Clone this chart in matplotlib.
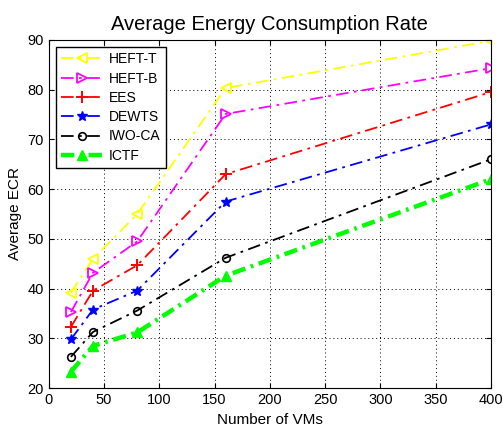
import numpy as np
import matplotlib.pyplot as plt

vms = [20, 40, 80, 160, 400]
heft_t = [39.2, 46.0, 55.0, 80.3, 89.8]
heft_b = [35.3, 43.2, 49.5, 75.1, 84.3]
ees = [32.3, 39.6, 44.7, 63.0, 79.5]
dewts = [29.8, 35.8, 39.6, 57.5, 73.0]
iwo_ca = [26.3, 31.3, 35.6, 46.2, 66.0]
ictf = [23.3, 28.5, 31.2, 42.6, 62.0]

plt.rcParams["font.family"] = ["Liberation Sans", "DejaVu Sans"]

fig = plt.figure(figsize=(5.03, 4.28), dpi=100)
ax = fig.add_axes([0.097, 0.093, 0.879, 0.814])

dd = (0, (7, 3, 1.5, 3))
ax.plot(vms, heft_t, color="yellow", linestyle=dd, linewidth=1.3, marker="<",
        markersize=7.5, markerfacecolor="none", markeredgewidth=1.3, label="HEFT-T")
ax.plot(vms, heft_b, color="magenta", linestyle=dd, linewidth=1.3, marker=">",
        markersize=7.5, markerfacecolor="none", markeredgewidth=1.3, label="HEFT-B")
ax.plot(vms, ees, color="red", linestyle=dd, linewidth=1.3, marker="+",
        markersize=8.5, markeredgewidth=1.4, label="EES")
ax.plot(vms, dewts, color="blue", linestyle=dd, linewidth=1.3, marker="*",
        markersize=7.5, label="DEWTS")
ax.plot(vms, iwo_ca, color="black", linestyle=dd, linewidth=1.3, marker="o",
        markersize=5.5, markerfacecolor="none", markeredgewidth=1.2, label="IWO-CA")
ax.plot(vms, ictf, color="#00ff00", linestyle=(0, (3, 1.3, 0.6, 1.3)), linewidth=3.2,
        marker="^", markersize=7.5, label="ICTF")

ax.set_xlim(0, 400)
ax.set_ylim(20, 90)
ax.set_xticks(np.arange(0, 401, 50))
ax.set_yticks(np.arange(20, 91, 10))
ax.grid(True, color="black", linestyle=(0, (1, 3)), linewidth=0.7)
ax.tick_params(direction="in", labelsize=10.5, top=True, right=True)
ax.set_title("Average Energy Consumption Rate", fontsize=14.5, pad=7)
ax.set_xlabel("Number of VMs", fontsize=11)
ax.set_ylabel("Average ECR", fontsize=11)
ax.legend(loc="upper left", fancybox=False, edgecolor="black", framealpha=1,
          fontsize=10, handlelength=3.0, borderaxespad=0.5, labelspacing=0.38,
          borderpad=0.4, handletextpad=0.4)

fig.savefig("out.png", dpi=100)
